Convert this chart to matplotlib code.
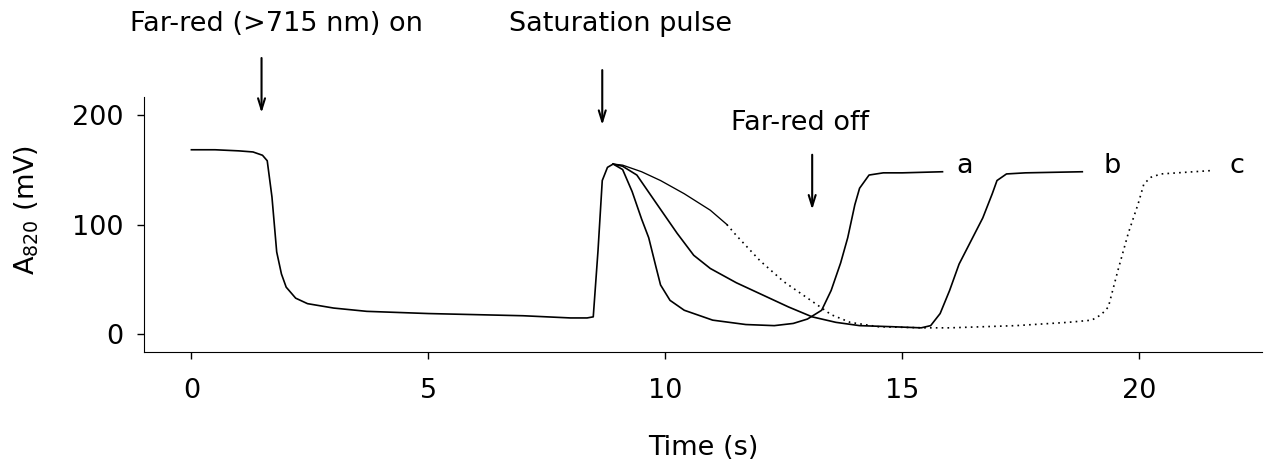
import matplotlib
matplotlib.use("Agg")
import matplotlib.pyplot as plt

plt.rcParams['font.family'] = ['DejaVu Sans']

# shared part of the trace (far-red on, then saturation pulse)
t_base = [0, 0.5, 1.0, 1.3, 1.5, 1.6, 1.7, 1.8, 1.9, 2.0, 2.2, 2.45, 3.0, 3.7,
          5.0, 6.0, 7.0, 8.0, 8.35, 8.48, 8.58, 8.67, 8.78, 8.9]
v_base = [168, 168, 167, 166, 163, 158, 125, 75, 55, 43, 33, 28, 24, 21,
          19, 18, 17, 15, 15, 16, 76, 140, 152, 155]

# curve a
t_a = [8.9, 9.1, 9.3, 9.5, 9.65, 9.8, 9.9, 10.1, 10.4, 11.0, 11.7, 12.3, 12.7,
       13.0, 13.3, 13.5, 13.7, 13.85, 14.0, 14.1, 14.3, 14.6, 15.0, 15.85]
v_a = [155, 150, 130, 105, 88, 62, 45, 31, 22, 13, 9, 8, 10,
       14, 22, 40, 65, 88, 118, 133, 145, 147, 147, 148]

# curve b
t_b = [8.9, 9.1, 9.4, 9.8, 10.25, 10.6, 10.95, 11.5, 12.0, 12.6, 13.1, 13.6,
       14.1, 14.8, 15.4, 15.6, 15.8, 16.0, 16.2, 16.45, 16.7, 16.9, 17.0, 17.2,
       17.6, 18.8]
v_b = [155, 153, 145, 120, 92, 72, 60, 47, 37, 25, 16, 11,
       8, 7, 6, 8, 19, 40, 64, 85, 106, 128, 140, 146,
       147, 148]

# curve c (solid part, then dotted)
t_c1 = [8.9, 9.1, 9.5, 9.9, 10.4, 10.95, 11.3]
v_c1 = [155, 154, 148, 140, 128, 113, 100]
t_c2 = [11.3, 11.5, 12.0, 12.5, 13.07, 13.5, 13.9, 14.5, 15.45, 16.0, 17.4,
        18.5, 19.0, 19.2, 19.35, 19.55, 19.77, 19.98, 20.1, 20.25, 20.46, 21.5]
v_c2 = [100, 90, 67, 48, 31, 18, 11, 7, 6, 6, 8,
        11, 13, 18, 25, 58, 92, 119, 137, 143, 146, 149]

curve_labels = ['a', 'b', 'c']
label_x = [16.15, 19.25, 21.9]
label_y = [153, 153, 153]

events = ['Far-red (>715 nm) on', 'Saturation pulse', 'Far-red off']
event_x = [1.48, 8.67, 13.1]
event_tip = [199, 188, 111]
text_x = [1.8, 9.05, 12.85]
text_y = [282, 282, 192]

fs = 19.5
fig = plt.figure(figsize=(12.79, 4.63), dpi=100)
ax = fig.add_axes([0.1126, 0.2397, 0.8744, 0.5508])

lw = 1.2
ax.plot(t_base, v_base, color='black', lw=lw)
ax.plot(t_a, v_a, color='black', lw=lw)
ax.plot(t_b, v_b, color='black', lw=lw)
ax.plot(t_c1, v_c1, color='black', lw=lw * 0.8)
ax.plot(t_c2, v_c2, color='black', lw=lw, linestyle=(0, (1, 2.5)))

for lab, x, y in zip(curve_labels, label_x, label_y):
    ax.text(x, y, lab, fontsize=fs, ha='left', va='center')

# arrows and event labels
for x, tip in zip(event_x, event_tip):
    ax.annotate('', xy=(x, tip), xytext=(x, tip + 55),
                arrowprops=dict(arrowstyle='->,head_length=0.8,head_width=0.25',
                                color='black', lw=1.5),
                annotation_clip=False)
for name, x, y in zip(events, text_x, text_y):
    ax.text(x, y, name, fontsize=fs, ha='center', va='center', clip_on=False)

ax.set_xlim(-1.0, 22.6)
ax.set_ylim(-16, 216)
ax.set_xticks([0, 5, 10, 15, 20])
ax.set_yticks([0, 100, 200])
ax.tick_params(labelsize=fs, direction='out', length=5, width=1)
ax.tick_params(axis='x', pad=14)
ax.tick_params(axis='y', pad=10)
ax.spines['top'].set_visible(False)
ax.spines['right'].set_visible(False)
ax.set_xlabel('Time (s)', fontsize=fs, labelpad=22)
ax.set_ylabel('A$_{820}$ (mV)', fontsize=fs)
ax.yaxis.set_label_coords(-0.092, 0.557)

fig.savefig('out.png', dpi=100)
